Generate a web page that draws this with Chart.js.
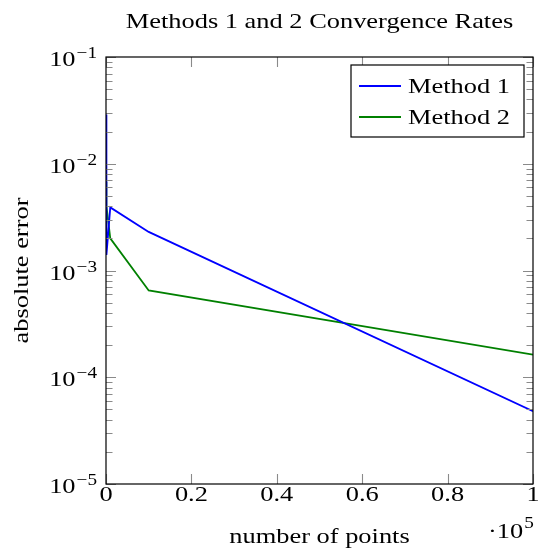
<!DOCTYPE html>
<html>
<head>
<meta charset="utf-8">
<script src="https://cdn.jsdelivr.net/npm/chart.js@4.4.1/dist/chart.umd.min.js"></script>
<style>
html,body{margin:0;padding:0;background:#fff;}
#c{display:block;}
</style>
</head>
<body>
<canvas id="c" width="538" height="552"></canvas>
<script>
// ---- data ----
const xValues = [10, 100, 1000, 10000, 100000];
const method1 = [0.029, 0.0014, 0.0039, 0.0023, 0.000048];
const method2 = [0.0068, 0.004, 0.002, 0.00065, 0.000163];
const seriesLabels = ['Method 1', 'Method 2'];
const xTickValues = [0, 20000, 40000, 60000, 80000, 100000];
const xTickLabels = ['0', '0.2', '0.4', '0.6', '0.8', '1'];
const yDecadeExps = [-5, -4, -3, -2, -1];
const titleText = 'Methods 1 and 2 Convergence Rates';
const xTitle = 'number of points';
const yTitle = 'absolute error';

const FONT = '"Liberation Serif", "Times New Roman", serif';
const SX = 1.2; // horizontal stretch to mimic wider Computer Modern glyphs
const colors = ['#0000ff', '#008000'];

function textW(ctx, s, size) {
  ctx.font = size + 'px ' + FONT;
  return ctx.measureText(s).width * SX;
}
function drawText(ctx, s, x, y, size, align) {
  const w = textW(ctx, s, size);
  let x0 = x;
  if (align === 'center') x0 = x - w / 2;
  else if (align === 'right') x0 = x - w;
  ctx.save();
  ctx.translate(x0, y);
  ctx.scale(SX, 1);
  ctx.textAlign = 'left';
  ctx.fillText(s, 0, 0);
  ctx.restore();
  return w;
}

const overlay = {
  id: 'overlay',
  afterDraw(chart) {
    const ctx = chart.ctx;
    const a = chart.chartArea;
    const xs = chart.scales.x, ys = chart.scales.y;
    ctx.save();
    // ticks
    ctx.strokeStyle = '#8a8a8a';
    ctx.lineWidth = 1.1;
    const MAJ = 10, MIN = 6.5;
    ctx.beginPath();
    xTickValues.forEach(v => {
      const px = Math.round(xs.getPixelForValue(v)) + 0.5;
      ctx.moveTo(px, a.bottom); ctx.lineTo(px, a.bottom - MAJ);
      ctx.moveTo(px, a.top); ctx.lineTo(px, a.top + MAJ);
    });
    yDecadeExps.forEach((e, i) => {
      const base = Math.pow(10, e);
      const py = Math.round(ys.getPixelForValue(base)) + 0.5;
      ctx.moveTo(a.left, py); ctx.lineTo(a.left + MAJ, py);
      ctx.moveTo(a.right, py); ctx.lineTo(a.right - MAJ, py);
      if (i < yDecadeExps.length - 1) {
        for (let m = 2; m <= 9; m++) {
          const q = Math.round(ys.getPixelForValue(m * base)) + 0.5;
          ctx.moveTo(a.left, q); ctx.lineTo(a.left + MIN, q);
          ctx.moveTo(a.right, q); ctx.lineTo(a.right - MIN, q);
        }
      }
    });
    ctx.stroke();
    // frame
    ctx.strokeStyle = '#000';
    ctx.lineWidth = 1.2;
    ctx.strokeRect(a.left, a.top, a.right - a.left, a.bottom - a.top);

    ctx.fillStyle = '#000';
    ctx.textBaseline = 'alphabetic';
    // title
    drawText(ctx, titleText, (a.left + a.right) / 2, a.top - 29, 22, 'center');
    // x tick labels
    xTickValues.forEach((v, i) => {
      drawText(ctx, xTickLabels[i], xs.getPixelForValue(v), a.bottom + 17, 22, 'center');
    });
    // y tick labels 10^e
    yDecadeExps.forEach(e => {
      const py = ys.getPixelForValue(Math.pow(10, e));
      const sup = '\u2212' + Math.abs(e);
      const right = a.left - 9;
      const sw = textW(ctx, sup, 16);
      drawText(ctx, sup, right - sw, py + 1, 16, 'left');
      drawText(ctx, '10', right - sw - 1, py + 9, 22, 'right');
    });
    // x axis title
    drawText(ctx, xTitle, (a.left + a.right) / 2, a.bottom + 59, 22, 'center');
    // scale factor ·10^5
    const fx = a.right - 45;
    const w10 = drawText(ctx, '\u00b710', fx, a.bottom + 54, 22, 'left');
    drawText(ctx, '5', fx + w10 + 1, a.bottom + 44, 16, 'left');
    // y axis title
    ctx.save();
    ctx.translate(a.left - 78, (a.top + a.bottom) / 2);
    ctx.rotate(-Math.PI / 2);
    drawText(ctx, yTitle, 0, 0, 22, 'center');
    ctx.restore();

    // legend
    const lx = a.right - 182, ly = a.top + 8, lw = 173, lh = 72;
    ctx.fillStyle = '#fff';
    ctx.fillRect(lx, ly, lw, lh);
    ctx.strokeStyle = '#000';
    ctx.lineWidth = 1.2;
    ctx.strokeRect(lx, ly, lw, lh);
    chart.data.datasets.forEach((ds, i) => {
      const cy = ly + 21 + i * 31;
      ctx.strokeStyle = ds.borderColor;
      ctx.lineWidth = 1.8;
      ctx.beginPath();
      ctx.moveTo(lx + 8, cy); ctx.lineTo(lx + 50, cy);
      ctx.stroke();
      ctx.fillStyle = '#000';
      drawText(ctx, ds.label, lx + 57, cy + 7, 22, 'left');
    });
    ctx.restore();
  }
};

new Chart(document.getElementById('c'), {
  type: 'line',
  data: {
    datasets: [method1, method2].map((vals, i) => ({
      label: seriesLabels[i],
      data: xValues.map((x, j) => ({ x: x, y: vals[j] })),
      borderColor: colors[i],
      backgroundColor: colors[i],
      borderWidth: 1.8,
      pointRadius: 0,
      tension: 0,
      fill: false
    }))
  },
  options: {
    responsive: false,
    animation: false,
    layout: { padding: { left: 0, right: 5, top: 57, bottom: 0 } },
    plugins: {
      legend: { display: false },
      tooltip: { enabled: false },
      title: { display: false }
    },
    scales: {
      x: {
        type: 'linear', min: 0, max: 100000,
        grid: { display: false },
        border: { display: false },
        ticks: { display: false },
        afterFit: s => { s.height = 68; }
      },
      y: {
        type: 'logarithmic', min: 1e-5, max: 1e-1,
        grid: { display: false },
        border: { display: false },
        ticks: { display: false },
        afterFit: s => { s.width = 106; }
      }
    }
  },
  plugins: [overlay]
});
</script>
</body>
</html>
